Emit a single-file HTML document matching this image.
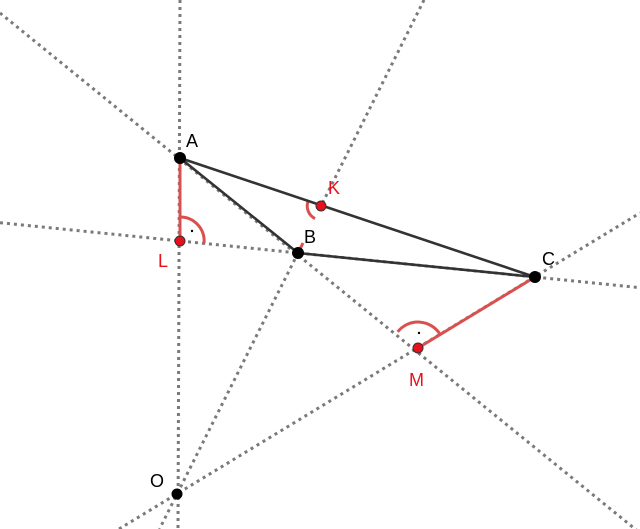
<!DOCTYPE html>
<html><head><style>body{margin:0;background:#fff}svg{display:block}</style></head><body>
<svg width="640" height="529" viewBox="0 0 640 529" xmlns="http://www.w3.org/2000/svg">
<g stroke="#7a7a7a" stroke-width="3" stroke-dasharray="3 4" fill="none">
<line x1="180" y1="0" x2="178" y2="529"/>
<line x1="0" y1="13" x2="640" y2="533"/>
<line x1="0" y1="222.7" x2="640" y2="287.7"/>
<line x1="424" y1="0" x2="321" y2="206"/>
<line x1="298" y1="253" x2="159.5" y2="529"/>
<line x1="119" y1="529" x2="640" y2="213"/>
</g>
<g stroke="#d9504f" stroke-width="3" fill="none">
<line x1="180" y1="158" x2="180" y2="241"/>
<line x1="298" y1="253" x2="303" y2="243"/>
<line x1="535" y1="277" x2="418" y2="348"/>
<path d="M180 217 A24 24 0 0 1 204 243.5"/>
<path d="M308 201.5 A14 14 0 0 0 315 218.6"/>
<path d="M397.7 331.8 A26 26 0 0 1 440.2 334.5"/>
</g>
<g stroke="#333" stroke-width="2.6" fill="none">
<line x1="180" y1="158" x2="298" y2="253"/>
<line x1="180" y1="158" x2="535" y2="277"/>
<line x1="298" y1="253" x2="535" y2="277"/>
</g>
<circle cx="192" cy="231" r="1.2" fill="#000"/>
<circle cx="419" cy="333" r="1.2" fill="#000"/>
<g fill="#000"><circle cx="180" cy="158" r="6"/><circle cx="298" cy="253" r="6"/><circle cx="535" cy="277" r="6"/><circle cx="177" cy="494" r="5.5"/></g>
<g fill="#e8101a" stroke="#333" stroke-width="1"><circle cx="321" cy="206" r="5"/><circle cx="180" cy="241" r="5"/><circle cx="418" cy="348" r="5"/></g>
<g font-family="Liberation Sans, sans-serif" font-size="18">
<text x="186" y="147" fill="#000">A</text>
<text x="304" y="243" fill="#000">B</text>
<text x="542" y="265" fill="#000">C</text>
<text x="150" y="487" fill="#000">O</text>
<text x="328" y="194" fill="#e8101a">K</text>
<text x="158" y="267" fill="#e8101a">L</text>
<text x="409" y="386" fill="#e8101a">M</text>
</g>
</svg>
</body></html>
